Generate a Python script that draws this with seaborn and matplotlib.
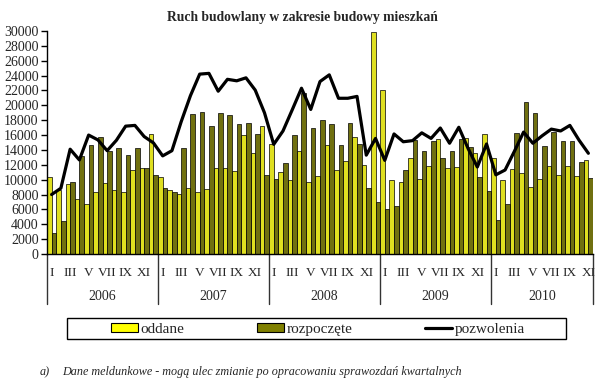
import numpy as np
import pandas as pd
import seaborn as sns
import matplotlib.pyplot as plt
import matplotlib.transforms as mtransforms
from matplotlib.patches import Patch, Rectangle
from matplotlib.lines import Line2D

# monthly data, I.2006 - XI.2010
years = ['2006', '2007', '2008', '2009', '2010']
months = ['I', 'II', 'III', 'IV', 'V', 'VI', 'VII', 'VIII', 'IX', 'X', 'XI', 'XII']

oddane = [
    10300, 8550, 9400, 7400, 6700, 8300, 9550, 8550, 8300, 11300, 11550, 16100,
    10300, 8650, 8050, 8850, 8400, 8700, 11550, 11550, 11200, 16000, 13600, 17200,
    14750, 11000, 9900, 13800, 9750, 10450, 14600, 11350, 12500, 15750, 12000, 29850,
    22100, 9900, 9750, 12900, 10050, 11900, 15450, 11550, 11700, 15600, 13550, 16100,
    12950, 9900, 11450, 10900, 9000, 10100, 11800, 10650, 11800, 10500, 12650,
]
rozpoczete = [
    2800, 4500, 9750, 13250, 14600, 15750, 13850, 14300, 13300, 14300, 11550, 10600,
    8850, 8300, 14300, 18800, 19050, 17200, 18950, 18650, 17500, 17650, 16100, 10600,
    10150, 12200, 15950, 21700, 16950, 18050, 17500, 14650, 17600, 14800, 8850, 6950,
    6000, 6400, 11300, 15400, 13900, 15150, 12900, 13800, 15500, 14450, 10300, 8450,
    4600, 6750, 16250, 20400, 18950, 14550, 16400, 15250, 15200, 12350, 10200,
]
pozwolenia = [
    8000, 8850, 14100, 12650, 16000, 15350, 13900, 15300, 17200, 17300, 15800, 14950,
    13200, 13900, 17800, 21300, 24200, 24300, 21900, 23500, 23300, 23700, 22050, 19000,
    14750, 16550, 19400, 22300, 19450, 23200, 24100, 20950, 20950, 21200, 13300, 15550,
    12600, 16150, 15100, 15250, 16300, 15550, 16950, 14900, 17050, 14200, 11700, 14800,
    10650, 11300, 13800, 16400, 14900, 15900, 16800, 16550, 17300, 15300, 13550,
]

n = len(oddane)
idx = np.arange(n)

df = pd.DataFrame({
    'idx': np.concatenate([idx, idx]),
    'value': oddane + rozpoczete,
    'seria': ['oddane'] * n + ['rozpoczęte'] * n,
})

sns.set_theme(style='ticks')
plt.rcParams['font.family'] = ['Liberation Serif', 'DejaVu Serif']

kolory = {'oddane': '#FFFF00', 'rozpoczęte': '#808000'}

fig = plt.figure(figsize=(6, 3.85), dpi=100)
ax = fig.add_axes([47 / 600, 1 - 254 / 385, 546 / 600, 223 / 385])

sns.barplot(data=df, x='idx', y='value', hue='seria', palette=kolory,
            width=1.0, edgecolor='black', linewidth=0.5, errorbar=None,
            legend=False, ax=ax)
sns.lineplot(x=idx, y=pozwolenia, color='black', linewidth=2.3, ax=ax)

ax.set_xlim(-0.5, n - 0.5)
ax.set_ylim(0, 30000)
ax.set_yticks(range(0, 30001, 2000))
ax.set_yticklabels([str(v) for v in range(0, 30001, 2000)], fontsize=10)
ax.set_xlabel('')
ax.set_ylabel('')

# month labels (every second month)
ax.set_xticks(idx[::2])
ax.set_xticklabels([months[i % 12] for i in idx[::2]], fontsize=9.5)
ax.tick_params(axis='x', length=0, pad=9)
ax.tick_params(axis='y', length=4, width=1, direction='out', color='black', pad=2)
sns.despine(ax=ax)
for s in ['left', 'bottom']:
    ax.spines[s].set_color('black')
    ax.spines[s].set_linewidth(1)

# year separators and labels
trans = mtransforms.blended_transform_factory(ax.transData, ax.transAxes)
for b in [-0.5, 11.5, 23.5, 35.5, 47.5, n - 0.5]:
    ax.plot([b, b], [0, -50 / 223], transform=trans, color='#333333',
            lw=1, clip_on=False)
starts = [0, 12, 24, 36, 48]
ends = [12, 24, 36, 48, n]
for y, s, e in zip(years, starts, ends):
    ax.text((s + e - 1) / 2, -43 / 223, y, transform=trans, ha='center',
            va='center', fontsize=10)

fig.text(302 / 600, 1 - 18 / 385, 'Ruch budowlany w zakresie budowy mieszkań',
         ha='center', va='center', fontsize=9.8, fontweight='bold')

# legend frame + entries
fig.patches.append(Rectangle((66.7 / 600, 1 - 339.3 / 385), 499 / 600, 21.6 / 385,
                             transform=fig.transFigure, facecolor='white',
                             edgecolor='black', linewidth=1))
handles = [
    Patch(facecolor='#FFFF00', edgecolor='black', linewidth=0.8),
    Patch(facecolor='#808000', edgecolor='black', linewidth=0.8),
    Line2D([0], [0], color='black', lw=2.3),
]
leg = fig.legend(handles, ['oddane', 'rozpoczęte', 'pozwolenia'], ncol=3,
                 loc='lower left', mode='expand',
                 bbox_to_anchor=(108 / 600, 1 - 339 / 385, 420 / 600, 21 / 385),
                 frameon=False, fontsize=11,
                 handlelength=1.75, handleheight=0.55, handletextpad=0.2,
                 borderpad=0.2, borderaxespad=0)

fig.text(40 / 600, 1 - 372 / 385, 'a)', fontsize=8.7, style='italic', va='center')
fig.text(62 / 600, 1 - 372 / 385,
         'Dane meldunkowe - mogą ulec zmianie po opracowaniu sprawozdań kwartalnych',
         fontsize=8.7, style='italic', va='center')

fig.savefig('out.png', dpi=100)
